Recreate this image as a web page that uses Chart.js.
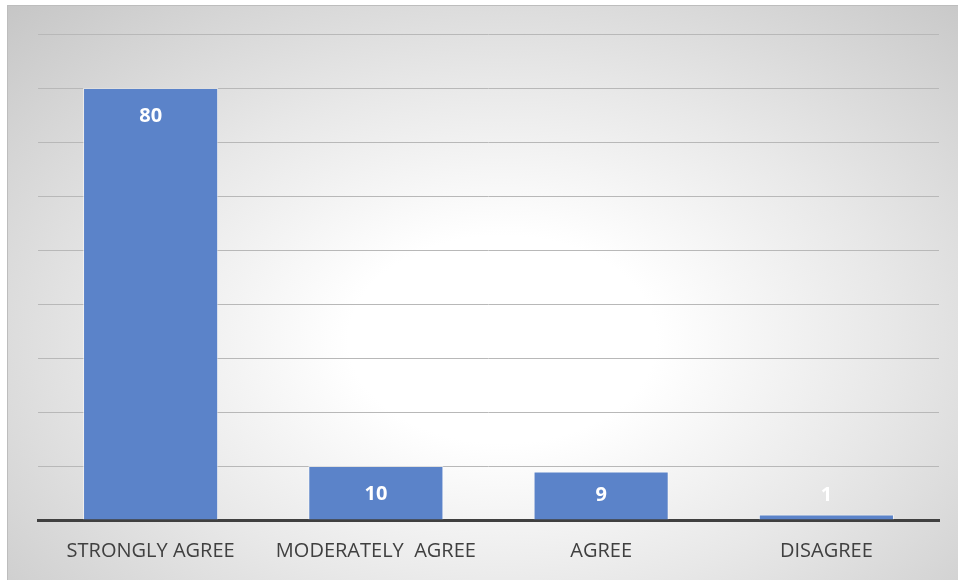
<!DOCTYPE html>
<html>
<head>
<meta charset="utf-8">
<script src="https://cdn.jsdelivr.net/npm/chart.js@4"></script>
<style>
  html, body { margin: 0; padding: 0; background: #ffffff; }
  #wrap { position: absolute; left: 0; top: 0; width: 958px; height: 580px; }
  #bg {
    position: absolute; left: 7px; top: 5px; width: 951px; height: 575px;
    border-left: 1px solid #bdbdbd; border-top: 1px solid #bdbdbd;
    background: radial-gradient(ellipse farthest-corner at 52% 58%, #ffffff 0%, #ffffff 22%, #e8e8e8 55%, #c6c6c6 100%);
  }
  canvas { position: absolute; left: 0; top: 0; }
</style>
</head>
<body>
<div id="wrap">
  <div id="bg"></div>
  <canvas id="bars" width="958" height="580"></canvas>
</div>
<script>
const categories = ['STRONGLY AGREE', 'MODERATELY  AGREE', 'AGREE', 'DISAGREE'];
const values = [80, 10, 9, 1];
const yMax = 90;
const yStep = 10;

const ctx = document.getElementById("bars");

// white value labels near the top of each bar
const valueLabels = {
    id: 'valueLabels',
    afterDatasetsDraw(chart) {
        const c = chart.ctx;
        const meta = chart.getDatasetMeta(0);
        const base = chart.scales.y.getPixelForValue(0);
        c.save();
        c.fillStyle = '#ffffff';
        c.font = 'bold 20px "Open Sans", sans-serif';
        c.textAlign = 'center';
        c.textBaseline = 'middle';
        meta.data.forEach((bar, i) => {
            const y = Math.min(bar.y + 28, base - 25);
            c.fillText(String(values[i]), bar.x, y);
        });
        c.restore();
    }
};

let barChart = new Chart(ctx, {
    type: 'bar',
    data: {
        labels: categories,
        datasets: [{
            data: values,
            backgroundColor: '#5b83c9',
            borderColor: 'rgba(255,255,255,0.55)',
            borderWidth: 1,
            borderSkipped: 'bottom',
            categoryPercentage: 1,
            barPercentage: 0.6
        }]
    },
    options: {
        responsive: false,
        animation: false,
        layout: {
            padding: { left: 38, right: 19, top: 34, bottom: 0 }
        },
        plugins: {
            legend: { display: false },
            tooltip: { enabled: false }
        },
        scales: {
            x: {
                afterFit(scale) { scale.height = 60; },
                grid: { display: false, drawTicks: false },
                border: { display: true, color: '#404040', width: 3 },
                ticks: {
                    color: '#404040',
                    padding: 19,
                    font: { family: '"Open Sans", sans-serif', size: 20 }
                }
            },
            y: {
                min: 0,
                max: yMax,
                afterFit(scale) { scale.width = 0; },
                ticks: { display: false, stepSize: yStep },
                border: { display: false },
                grid: { color: '#b8b8b8', lineWidth: 1, drawTicks: false }
            }
        }
    },
    plugins: [valueLabels]
});
</script>
</body>
</html>
